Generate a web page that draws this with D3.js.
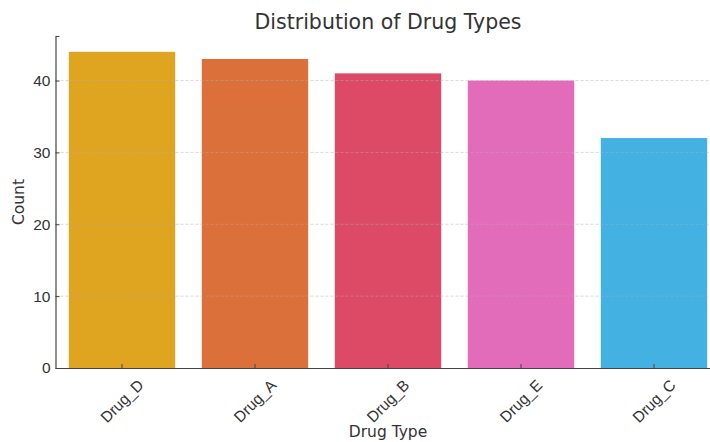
<!DOCTYPE html>
<html>
<head>
<meta charset="utf-8">
<script src="https://cdn.jsdelivr.net/npm/d3@7"></script>
<style>
  body { margin: 0; background: #fff; }
  svg { display: block; font-family: "DejaVu Sans", sans-serif; }
  .tick text { fill: #333; }
</style>
</head>
<body>
<svg id="chart"></svg>
<script>
const drugs = ["Drug_D", "Drug_A", "Drug_B", "Drug_E", "Drug_C"];
const counts = [44, 43, 41, 40, 32];
const barColors = ["#dfa420", "#db703a", "#dd4a66", "#e36cba", "#43b1e2"];
const yTicks = [0, 10, 20, 30, 40];

const W = 710, H = 442;
const margin = { top: 36, right: -10.5, bottom: 74, left: 55.5 },
    width = W - margin.left - margin.right,
    height = H - margin.top - margin.bottom;

const svg = d3.select("#chart")
    .attr("width", W)
    .attr("height", H);

const g = svg.append("g")
    .attr("transform", `translate(${margin.left},${margin.top})`);

const x = d3.scaleBand()
    .domain(drugs)
    .range([0, width])
    .paddingInner(0.2)
    .paddingOuter(0.1);

const y = d3.scaleLinear()
    .domain([0, 44 * 1.05])
    .range([height, 0]);

// bars
g.selectAll(".bar")
    .data(drugs)
    .join("rect")
    .attr("class", "bar")
    .attr("x", d => x(d))
    .attr("y", (d, i) => y(counts[i]))
    .attr("width", x.bandwidth())
    .attr("height", (d, i) => height - y(counts[i]))
    .attr("fill", (d, i) => barColors[i]);

// dashed grid, drawn faintly over bars
g.append("g")
    .selectAll("line")
    .data(yTicks.slice(1))
    .join("line")
    .attr("x1", 0)
    .attr("x2", width)
    .attr("y1", d => y(d))
    .attr("y2", d => y(d))
    .attr("stroke", "#b0b0b0")
    .attr("stroke-opacity", 0.6)
    .attr("stroke-width", 0.8)
    .attr("stroke-dasharray", "3,2");

// axes
const yAxis = g.append("g")
    .call(d3.axisLeft(y).tickValues(yTicks).tickSize(-4).tickPadding(5));
yAxis.select(".domain").attr("stroke", "#444").attr("stroke-width", 1.2);
yAxis.selectAll(".tick line").attr("stroke", "#444");
yAxis.selectAll(".tick text").style("font-size", "15.5px");

const xAxis = g.append("g")
    .attr("transform", `translate(0,${height})`)
    .call(d3.axisBottom(x).tickSize(-4).tickSizeOuter(0));
xAxis.select(".domain").attr("stroke", "#444").attr("stroke-width", 1.2);
xAxis.selectAll(".tick line").attr("stroke", "#444");
xAxis.selectAll(".tick text")
    .style("font-size", "15.5px")
    .attr("text-anchor", "middle")
    .attr("y", 0)
    .attr("dy", "0.35em")
    .attr("transform", "translate(0,33) rotate(-45)");

// titles
const cx = margin.left + width / 2;

svg.append("text")
    .attr("x", cx)
    .attr("y", 29)
    .attr("text-anchor", "middle")
    .attr("fill", "#333")
    .style("font-size", "20.5px")
    .text("Distribution of Drug Types");

svg.append("text")
    .attr("x", cx)
    .attr("y", 437)
    .attr("text-anchor", "middle")
    .attr("fill", "#333")
    .style("font-size", "15.5px")
    .text("Drug Type");

svg.append("text")
    .attr("transform", `translate(24,${margin.top + height / 2}) rotate(-90)`)
    .attr("text-anchor", "middle")
    .attr("fill", "#333")
    .style("font-size", "15.5px")
    .text("Count");
</script>
</body>
</html>
